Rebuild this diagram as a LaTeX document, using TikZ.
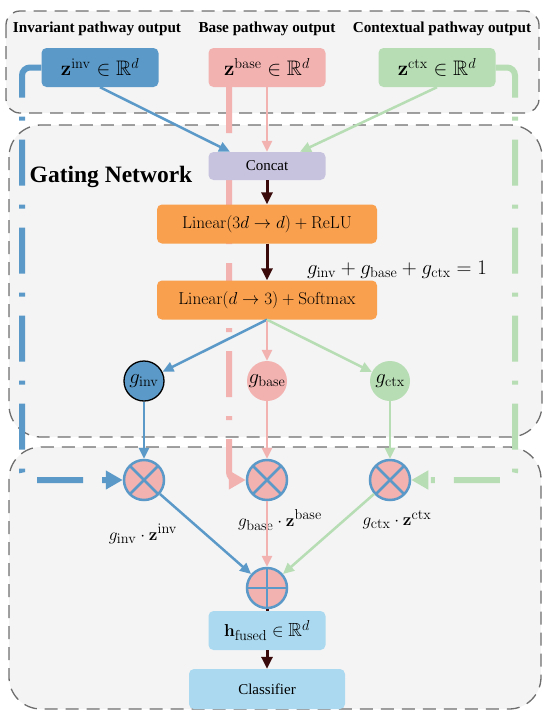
\documentclass[tikz,border=0pt]{standalone}
\usepackage[no-math]{fontspec}
\setmainfont{Liberation Serif}
\usepackage{amsmath,amssymb}
\usepackage{tikz}
\usetikzlibrary{positioning,arrows.meta}
\definecolor{pathInv}{HTML}{5B9AC8}
\definecolor{pathBase}{HTML}{F2B2B0}
\definecolor{pathCtx}{HTML}{B6DDB3}
\definecolor{gateOrange}{HTML}{F9A04E}
\definecolor{concatLila}{HTML}{C7C3DE}
\definecolor{fuseBlue}{HTML}{ABDAF0}
\definecolor{panelGray}{HTML}{F4F4F4}
\definecolor{panelEdge}{HTML}{6E6E6E}
\definecolor{flowDark}{HTML}{3A0A0A}
\pgfdeclarelayer{panels}
\pgfdeclarelayer{skips}
\pgfsetlayers{panels,skips,main}

\begin{document}
\begin{tikzpicture}[
  x=1pt, y=-1pt,
  font=\fontsize{14.5}{17}\selectfont,
  panel/.style={
    draw=panelEdge, fill=panelGray, line width=1.3pt,
    dash pattern=on 13pt off 8pt
  },
  pathtitle/.style={font=\bfseries\fontsize{15.2}{18}\selectfont},
  vecbox/.style={
    rectangle, rounded corners=5pt, inner sep=0pt,
    minimum width=117pt, minimum height=39pt,
    font=\fontsize{21}{25}\selectfont
  },
  layerbox/.style={
    vecbox, fill=gateOrange, minimum width=220pt,
    font=\fontsize{18.5}{22}\selectfont
  },
  plainbox/.style={
    vecbox, font=\fontsize{15}{18}\selectfont
  },
  gate/.style={
    circle, inner sep=0pt, minimum size=40pt,
    font=\fontsize{21}{25}\selectfont
  },
  mulop/.style={
    circle, inner sep=0pt, minimum size=40pt,
    fill=pathBase, draw=pathInv, line width=2.5pt
  },
  timesop/.style={
    mulop,
    path picture={
      \draw[pathInv, line width=2.5pt]
        (path picture bounding box.north west) -- (path picture bounding box.south east)
        (path picture bounding box.north east) -- (path picture bounding box.south west);
    }
  },
  plusop/.style={
    mulop,
    path picture={
      \draw[pathInv, line width=2.5pt]
        (path picture bounding box.north) -- (path picture bounding box.south)
        (path picture bounding box.west) -- (path picture bounding box.east);
    }
  },
  prodlabel/.style={font=\fontsize{19}{23}\selectfont},
  flow/.style={line width=2.5pt, -{Triangle[length=11pt,width=10pt]}},
  darkflow/.style={flowDark, line width=3pt, -{Triangle[length=12pt,width=11pt]}},
  skipline/.style={
    line width=6pt, rounded corners=8pt,
    dash pattern=on 46pt off 19pt on 4pt off 19pt,
    -{Triangle[length=17pt,width=18pt]}
  }
]
  \useasboundingbox (0,0) rectangle (550,713);

  % pathway outputs
  \node[pathtitle] (tinv) at (97,29) {Invariant pathway output};
  \node[pathtitle] (tbase) at (267,29) {Base pathway output};
  \node[pathtitle] (tctx) at (442,29) {Contextual pathway output};

  \node[vecbox, fill=pathInv] (zinv) at (100,67.5) {$\mathbf{z}^{\mathrm{inv}}\in\mathbb{R}^d$};
  \node[vecbox, fill=pathBase] (zbase) at (267,67.5) {$\mathbf{z}^{\mathrm{base}}\in\mathbb{R}^d$};
  \node[vecbox, fill=pathCtx] (zctx) at (437,67.5) {$\mathbf{z}^{\mathrm{ctx}}\in\mathbb{R}^d$};

  % gating network
  \node[plainbox, fill=concatLila, minimum height=28pt] (concat) at (267,166) {Concat};
  \node[font=\bfseries\fontsize{23.5}{28}\selectfont] (gatetitle) at (111,177) {Gating Network};
  \node[layerbox] (lin1) at (267,224) {$\mathrm{Linear}(3d\to d)+\mathrm{ReLU}$};
  \node[layerbox] (lin2) at (267,300) {$\mathrm{Linear}(d\to 3)+\mathrm{Softmax}$};
  \node[font=\fontsize{21.5}{25}\selectfont] (gsum) at (397,270)
    {$g_{\mathrm{inv}}+g_{\mathrm{base}}+g_{\mathrm{ctx}}=1$};

  \node[gate, fill=pathInv, draw=black, line width=1.3pt] (ginv) at (144,381) {$g_{\mathrm{inv}}$};
  \node[gate, fill=pathBase] (gbase) at (267,381) {$g_{\mathrm{base}}$};
  \node[gate, fill=pathCtx] (gctx) at (390,381) {$g_{\mathrm{ctx}}$};

  % fusion
  \node[timesop] (mulinv) at (144,480) {};
  \node[timesop] (mulbase) at (267,480) {};
  \node[timesop] (mulctx) at (390,480) {};
  \node[plusop] (fsum) at (267,588) {};

  \node[prodlabel] (lblinv) at (143,534) {$g_{\mathrm{inv}}\cdot\mathbf{z}^{\mathrm{inv}}$};
  \node[prodlabel] (lblbase) at (280,520) {$g_{\mathrm{base}}\cdot\mathbf{z}^{\mathrm{base}}$};
  \node[prodlabel] (lblctx) at (397,520) {$g_{\mathrm{ctx}}\cdot\mathbf{z}^{\mathrm{ctx}}$};

  \node[vecbox, fill=fuseBlue, font=\fontsize{19}{23}\selectfont] (fused) at (267,630.5)
    {$\mathbf{h}_{\mathrm{fused}}\in\mathbb{R}^d$};
  \node[plainbox, fill=fuseBlue, minimum width=156pt, minimum height=40pt] (cls) at (267,689) {Classifier};

  % panels
  \begin{pgfonlayer}{panels}
    \draw[panel, rounded corners=14pt] (6,11) rectangle (539,113);
    \draw[panel, rounded corners=32pt] (9,125) rectangle (542,437);
    \draw[panel, rounded corners=32pt] (9,447) rectangle (541,709);
  \end{pgfonlayer}

  % skip connections
  \coordinate (invrail) at (22,480);
  \coordinate (baserail) at (229,0);
  \coordinate (ctxrail) at (515,480);
  \begin{pgfonlayer}{skips}
    \draw[skipline, pathInv] (zinv.west) -| (invrail) -- (mulinv.west);
    \draw[skipline, pathBase] (zbase.south -| baserail) |- (mulbase.west);
    \draw[skipline, pathCtx] (zctx.east) -| (ctxrail) -- (mulctx.east);
  \end{pgfonlayer}

  % connections
  \draw[flow, pathInv] (zinv.south) -- ([xshift=-37pt]concat.north);
  \draw[flow, pathBase] (zbase.south) -- (concat.north);
  \draw[flow, pathCtx] (zctx.south) -- ([xshift=33pt]concat.north);

  \draw[darkflow] (concat) -- (lin1);
  \draw[darkflow] (lin1) -- (lin2);

  \draw[flow, pathInv] (lin2.south) -- (ginv);
  \draw[flow, pathBase] (lin2.south) -- (gbase);
  \draw[flow, pathCtx] (lin2.south) -- (gctx);

  \draw[flow, pathInv] (ginv) -- (mulinv);
  \draw[flow, pathBase] (gbase) -- (mulbase);
  \draw[flow, pathCtx] (gctx) -- (mulctx);

  \draw[flow, pathInv] (mulinv) -- (fsum);
  \draw[flow, pathBase] (mulbase) -- (fsum);
  \draw[flow, pathCtx] (mulctx) -- (fsum);

  \draw[flowDark, line width=3pt] (fsum) -- (fused);
  \draw[darkflow] (fused) -- (cls);
\end{tikzpicture}
\end{document}
